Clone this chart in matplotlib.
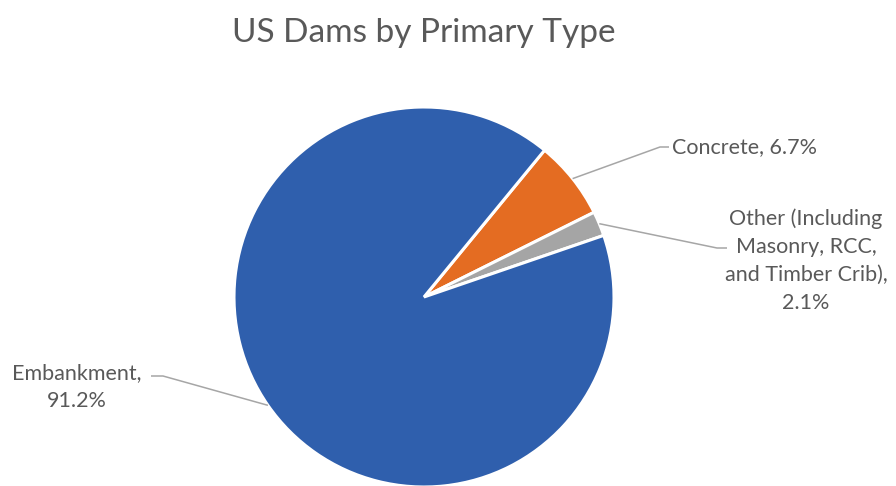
import numpy as np
import matplotlib
matplotlib.use("Agg")
import matplotlib.pyplot as plt

# Share of US dams by primary construction type (percent)
categories = ["Concrete", "Other (Including\nMasonry, RCC,\nand Timber Crib)", "Embankment"]
shares = [6.7, 2.1, 91.2]
colors = ["#E46C22", "#A5A5A5", "#2F5FAD"]
title = "US Dams by Primary Type"

plt.rcParams["font.family"] = ["Lato", "DejaVu Sans"]
TEXT = "#595959"
LINE = "#A6A6A6"

W, H = 896, 486
fig = plt.figure(figsize=(W / 100, H / 100), dpi=100)
ax = fig.add_axes([0, 0, 1, 1])

cx, cy, r = 424, H - 297, 190
wedges, _ = ax.pie(shares, colors=colors, startangle=50.6, counterclock=False,
                   center=(cx, cy), radius=r,
                   wedgeprops=dict(edgecolor="white", linewidth=2.2),
                   frame=True)
ax.set_xlim(0, W)
ax.set_ylim(0, H)
ax.set_aspect("equal")
ax.axis("off")

ax.text(cx, H - 33, title, ha="center", va="center", fontsize=24, color=TEXT)

# label text position, elbow of the leader, end of the leader, alignment
layout = [
    dict(text=(672, H - 147), elbow=(660, H - 147), end=(669, H - 147), ha="left"),
    dict(text=(806, H - 261), elbow=(717, H - 248), end=(727, H - 248), ha="center"),
    dict(text=(77, H - 387), elbow=(163, H - 376), end=(151, H - 376), ha="center"),
]

for w, name, val, lay in zip(wedges, categories, shares, layout):
    mid = np.deg2rad((w.theta1 + w.theta2) / 2)
    ax0 = cx + r * np.cos(mid)
    ay0 = cy + r * np.sin(mid)
    ex, ey = lay["elbow"]
    fx, fy = lay["end"]
    ax.plot([ax0, ex, fx], [ay0, ey, fy], color=LINE, lw=1.1, solid_capstyle="butt")
    if name == "Concrete":
        label = f"{name}, {val}%"
    else:
        label = f"{name},\n{val}%"
    ax.text(*lay["text"], label, ha=lay["ha"], va="center", fontsize=15.5,
            color=TEXT, linespacing=1.5, multialignment="center")

fig.savefig("out.png", dpi=100, facecolor="white")
